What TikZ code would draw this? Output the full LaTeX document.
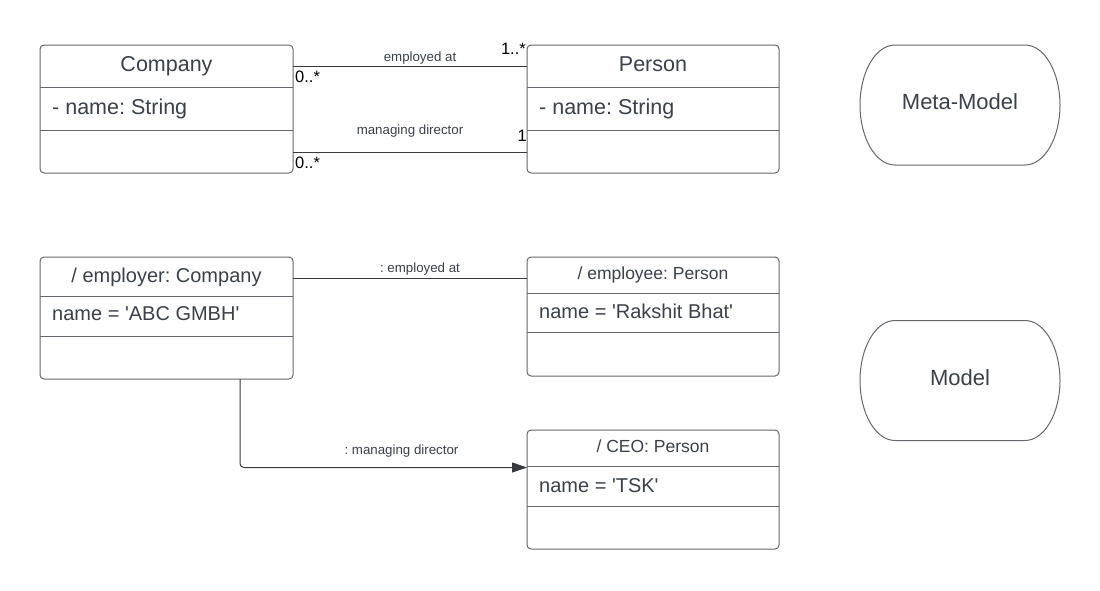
\documentclass[tikz,border=0pt]{standalone}
\usepackage{fontspec}
\setmainfont{Liberation Sans}
\usetikzlibrary{arrows.meta}
\frenchspacing
\definecolor{txt}{RGB}{58,65,74}
\definecolor{boxc}{RGB}{100,104,110}
\definecolor{conc}{RGB}{55,58,62}
\newcommand{\sq}{\textquotesingle}
\tikzset{
  box/.style={draw=boxc, line width=1pt, rounded corners=4pt, inner sep=0pt, outer sep=0pt},
  outline/.style={draw=boxc, line width=1pt},
  divider/.style={draw=boxc, line width=1pt},
  conn/.style={draw=conc, line width=1pt},
  bigtitle/.style={text=txt, inner sep=0pt, anchor=base, font=\fontsize{21.5}{24}\selectfont},
  bigattr/.style={text=txt, inner sep=0pt, anchor=base west, font=\fontsize{21.5}{24}\selectfont},
  objtitle/.style={text=txt, inner sep=0pt, anchor=base, font=\fontsize{20}{23}\selectfont},
  smalltitle/.style={text=txt, inner sep=0pt, anchor=base, font=\fontsize{17.5}{20}\selectfont},
  objattr/.style={text=txt, inner sep=0pt, anchor=base west, font=\fontsize{20}{23}\selectfont},
  elabel/.style={text=txt, inner sep=0pt, anchor=base, font=\fontsize{13.3}{15}\selectfont},
  mult/.style={text=black, inner sep=0pt, font=\fontsize{16.5}{18}\selectfont},
}
\begin{document}
\begin{tikzpicture}[x=1pt,y=-1pt]
\useasboundingbox (0,0) rectangle (1100,590);
\fill[white] (0,0) rectangle (1100,590);

% ---------- Meta-model classes ----------
\node[box, minimum width=253pt, minimum height=128pt] (company) at (166.5,109) {};
\draw[divider] (40,87) -- (293,87);
\draw[divider] (40,130) -- (293,130);
\node[bigtitle] (companyT) at (166.5,71) {Company};
\node[bigattr] (companyA) at (52,114) {- name: String};

\node[box, minimum width=252pt, minimum height=128pt] (person) at (653,109) {};
\draw[divider] (527,87) -- (779,87);
\draw[divider] (527,130) -- (779,130);
\node[bigtitle] (personT) at (653,71) {Person};
\node[bigattr] (personA) at (539,114) {- name: String};

\draw[conn] (company.east |- 0,66) -- (person.west |- 0,66);
\node[elabel] (l1) at (420,61) {employed at};
\node[mult, anchor=base west] (m1) at (295,82) {0..*};
\node[mult, anchor=base east] (m2) at (526,54) {1..*};

\draw[conn] (company.east |- 0,152.5) -- (person.west |- 0,152.5);
\node[elabel] (l2) at (410,134.5) {managing director};
\node[mult, anchor=base west] (m3) at (295,168) {0..*};
\node[mult, anchor=base east] (m4) at (527,141) {1};

% ---------- Model objects ----------
\node[box, minimum width=253pt, minimum height=122pt] (employer) at (166.5,318) {};
\draw[divider] (40,296.5) -- (293,296.5);
\draw[divider] (40,336.5) -- (293,336.5);
\node[objtitle] (employerT) at (166.5,282) {/ employer: Company};
\node[objattr] (employerA) at (52,320) {name = \sq ABC GMBH\sq};

\node[box, minimum width=252pt, minimum height=119pt] (employee) at (653,316.5) {};
\draw[divider] (527,293.5) -- (779,293.5);
\draw[divider] (527,332.5) -- (779,332.5);
\node[smalltitle] (employeeT) at (653,279.5) {/ employee: Person};
\node[objattr] (employeeA) at (539,318) {name = \sq Rakshit Bhat\sq};

\node[box, minimum width=252pt, minimum height=119pt] (ceo) at (653,489.5) {};
\draw[divider] (527,466.5) -- (779,466.5);
\draw[divider] (527,506.5) -- (779,506.5);
\node[smalltitle] (ceoT) at (653,452.5) {/ CEO: Person};
\node[objattr] (ceoA) at (539,492) {name = \sq TSK\sq};

\draw[conn] (employer.east |- 0,278.5) -- (employee.west |- 0,278.5);
\node[elabel] (l3) at (420,272) {: employed at};

\draw[conn, rounded corners=4pt, -{Triangle[length=15pt,width=10pt]}]
  (employer.south -| 240,0) -- (240,467.5) -- (ceo.west |- 0,467.5);
\node[elabel] (l4) at (401.5,454) {: managing director};

% ---------- Level labels ----------
\draw[outline] (895,45) -- (1025,45) .. controls (1044.3,45) and (1060,71.9) .. (1060,105)
  .. controls (1060,138.1) and (1044.3,165) .. (1025,165) -- (895,165)
  .. controls (875.7,165) and (860,138.1) .. (860,105)
  .. controls (860,71.9) and (875.7,45) .. (895,45) -- cycle;
\node[bigtitle, font=\fontsize{22}{25}\selectfont] (meta) at (960,109) {Meta-Model};

\draw[outline] (895,320.5) -- (1025,320.5) .. controls (1044.3,320.5) and (1060,347.4) .. (1060,380.5)
  .. controls (1060,413.6) and (1044.3,440.5) .. (1025,440.5) -- (895,440.5)
  .. controls (875.7,440.5) and (860,413.6) .. (860,380.5)
  .. controls (860,347.4) and (875.7,320.5) .. (895,320.5) -- cycle;
\node[bigtitle, font=\fontsize{22}{25}\selectfont] (model) at (960,385) {Model};
\end{tikzpicture}
\end{document}
